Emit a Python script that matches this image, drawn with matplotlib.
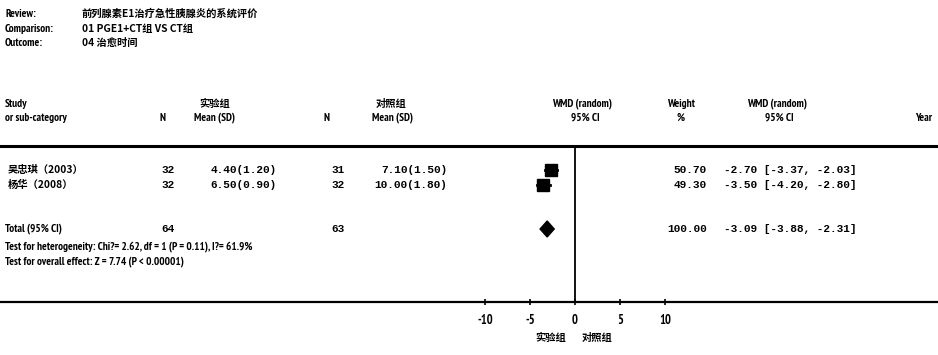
import matplotlib
matplotlib.use("Agg")
import matplotlib.pyplot as plt

plt.rcParams['font.family'] = ['PT Sans Narrow', 'Noto Sans CJK SC', 'DejaVu Sans']

review = "前列腺素E1治疗急性胰腺炎的系统评价"
comparison = "01 PGE1+CT组 VS CT组"
outcome = "04 治愈时间"

studies = ["吴忠琪（2003）", "杨华（2008）"]
exp_n = [32, 32]
exp_mean = [4.40, 6.50]
exp_sd = [1.20, 0.90]
ctl_n = [31, 32]
ctl_mean = [7.10, 10.00]
ctl_sd = [1.50, 1.80]
wmd = [-2.70, -3.50]
ci_low = [-3.37, -4.20]
ci_high = [-2.03, -2.80]
weights = [50.70, 49.30]

total_exp_n = 64
total_ctl_n = 63
total_wmd = -3.09
total_low = -3.88
total_high = -2.31
total_weight = 100.00

heterogeneity = "Test for heterogeneity: Chi?= 2.62, df = 1 (P = 0.11), I?= 61.9%"
overall = "Test for overall effect: Z = 7.74 (P < 0.00001)"
ticks = [-10, -5, 0, 5, 10]
favours = ["实验组", "对照组"]

W, H = 938, 355
fig = plt.figure(figsize=(W / 100, H / 100), dpi=100)

# text layer in pixel coords
tax = fig.add_axes([0, 0, 1, 1])
tax.set_xlim(0, W)
tax.set_ylim(H, 0)
tax.axis("off")

# forest layer: x in effect units (0 at px 575, 9 px per unit), y in pixels
ax = fig.add_axes([0, 0, 1, 1], facecolor="none")
x0, ppu = 575, 9.0
ax.set_xlim(-x0 / ppu, (W - x0) / ppu)
ax.set_ylim(H, 0)

lab = dict(fontsize=8, fontweight="bold", va="center", color="black")
mono = dict(fontsize=8, fontweight="bold", va="center", color="black",
            family=["Liberation Mono", "DejaVu Sans Mono"])
cjk = dict(fontsize=7.4, fontweight="bold", va="center", color="black",
           family=["Noto Sans CJK SC", "DejaVu Sans"])

# header block
for y, k, v in [(14, "Review:", review), (29, "Comparison:", comparison), (43, "Outcome:", outcome)]:
    tax.text(5, y, k, **lab)
    tax.text(82, y, v, **cjk)

# column headers
tax.text(5, 104, "Study", **lab)
tax.text(5, 118, "or sub-category", **lab)
tax.text(215, 104, favours[0], ha="center", **cjk)
tax.text(391, 104, favours[1], ha="center", **cjk)
tax.text(163, 118, "N", ha="center", **lab)
tax.text(214, 118, "Mean (SD)", ha="center", **lab)
tax.text(326, 118, "N", ha="center", **lab)
tax.text(392, 118, "Mean (SD)", ha="center", **lab)
tax.text(582, 104, "WMD (random)", ha="center", **lab)
tax.text(585, 118, "95% CI", ha="center", **lab)
tax.text(681, 104, "Weight", ha="center", **lab)
tax.text(681, 118, "%", ha="center", **lab)
tax.text(777, 104, "WMD (random)", ha="center", **lab)
tax.text(779, 118, "95% CI", ha="center", **lab)
tax.text(924, 118, "Year", ha="center", **lab)

tax.plot([0, W], [146, 146], color="black", lw=2.2)

# study rows
row_y = [170, 185]
for i, name in enumerate(studies):
    y = row_y[i]
    tax.text(8, y, name, **cjk)
    tax.text(168, y, str(exp_n[i]), ha="center", **mono)
    tax.text(277, y, f"{exp_mean[i]:.2f}({exp_sd[i]:.2f})", ha="right", **mono)
    tax.text(338, y, str(ctl_n[i]), ha="center", **mono)
    tax.text(447, y, f"{ctl_mean[i]:.2f}({ctl_sd[i]:.2f})", ha="right", **mono)
    tax.text(707, y, f"{weights[i]:.2f}", ha="right", **mono)
    tax.text(724, y, f"{wmd[i]:.2f} [{ci_low[i]:.2f}, {ci_high[i]:.2f}]", ha="left", **mono)
    ax.plot([ci_low[i], ci_high[i]], [y, y], color="black", lw=2)
    ax.plot(wmd[i], y, marker="s", ms=8, color="black")

# total row
ty = 229
tax.text(5, ty, "Total (95% CI)", **lab)
tax.text(168, ty, str(total_exp_n), ha="center", **mono)
tax.text(338, ty, str(total_ctl_n), ha="center", **mono)
tax.text(707, ty, f"{total_weight:.2f}", ha="right", **mono)
tax.text(724, ty, f"{total_wmd:.2f} [{total_low:.2f}, {total_high:.2f}]", ha="left", **mono)
ax.fill([total_low, total_wmd, total_high, total_wmd],
        [ty, ty - 8, ty, ty + 8], color="black")

tax.text(5, 247, heterogeneity, **lab)
tax.text(5, 262, overall, **lab)

# axis line, zero line, ticks
ax.vlines(0, 147, 302, color="black", lw=1.3)
for s in ["top", "left", "right"]:
    ax.spines[s].set_visible(False)
ax.spines["bottom"].set_position(("data", 302))
ax.spines["bottom"].set_linewidth(1.6)
ax.set_xticks(ticks)
ax.set_xticklabels([str(t) for t in ticks], fontsize=9, fontweight="bold")
ax.tick_params(axis="x", direction="inout", length=5, width=1.2, pad=6)
ax.set_yticks([])

tax.text(551, 338, favours[0], ha="center", **cjk)
tax.text(597, 338, favours[1], ha="center", **cjk)

fig.savefig("out.png", dpi=100)
